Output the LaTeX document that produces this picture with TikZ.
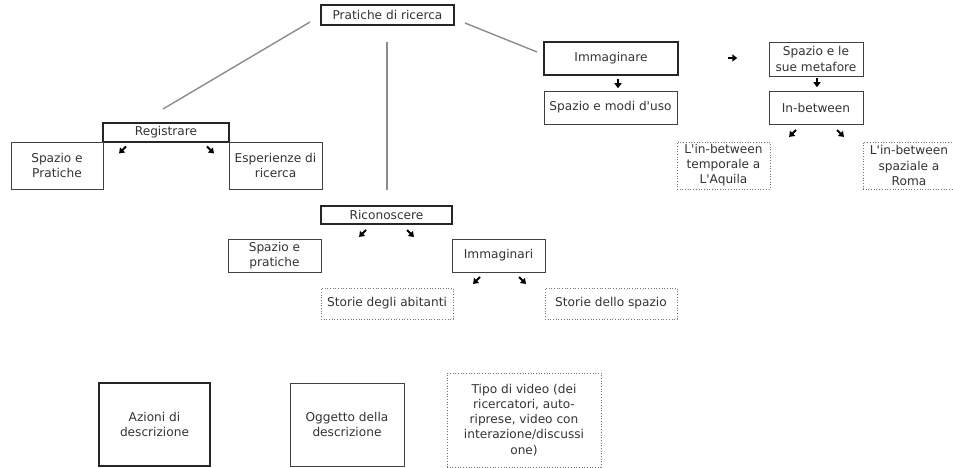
\documentclass[tikz,border=0pt]{standalone}
\usepackage{fontspec}
\setmainfont{DejaVu Sans}
\usetikzlibrary{arrows.meta}
\begin{document}
\begin{tikzpicture}[x=1bp,y=-1bp,
  every node/.style={font=\fontsize{12.2}{15.2}\selectfont, align=center, inner sep=1bp, text=black!80},
  thinbox/.style={draw=black!75, line width=0.8bp},
  thickbox/.style={draw=black!85, line width=2bp},
  dotbox/.style={draw=black!55, line width=0.7bp, dotted},
  conn/.style={draw=black!45, line width=1.4bp},
  sarrow/.style={line width=2bp, -{Triangle[length=5bp,width=7bp]}, shorten >=-2bp}]
\useasboundingbox (0,0) rectangle (953,468);
% nodes
\node[thickbox, minimum width=133bp, minimum height=20bp] (prat) at (387.5,15) {Pratiche di ricerca};
\node[thickbox, minimum width=126bp, minimum height=19bp] (reg) at (166,132.5) {Registrare};
\node[thinbox, minimum width=92bp, minimum height=47bp] (sp1) at (57,165.5) {Spazio e\\Pratiche};
\node[thinbox, minimum width=93bp, minimum height=47bp] (esp) at (275.5,165.5) {Esperienze di\\ricerca};
\node[thickbox, minimum width=134bp, minimum height=33bp] (imm) at (611,58.5) {Immaginare};
\node[thinbox, minimum width=133bp, minimum height=33bp] (spmod) at (610.5,107.5) {Spazio e modi d\textquotesingle uso};
\node[thinbox, minimum width=94bp, minimum height=34bp] (spmet) at (816,59) {Spazio e le\\sue metafore};
\node[thinbox, minimum width=94bp, minimum height=33bp] (inb) at (816,107.5) {In-between};
\node[dotbox, minimum width=93bp, minimum height=47bp] (ltemp) at (723.5,165.5) {L\textquotesingle in-between\\temporale a\\L\textquotesingle Aquila};
\node[dotbox, minimum width=92bp, minimum height=47bp] (lspaz) at (909,165.5) {L\textquotesingle in-between\\spaziale a\\Roma};
\node[thickbox, minimum width=131bp, minimum height=18bp] (ric) at (386.5,215) {Riconoscere};
\node[thinbox, minimum width=93bp, minimum height=33bp] (sp2) at (274.5,255.5) {Spazio e\\pratiche};
\node[thinbox, minimum width=93bp, minimum height=33bp] (immi) at (498.5,255.5) {Immaginari};
\node[dotbox, minimum width=132bp, minimum height=31bp] (sab) at (387,303.5) {Storie degli abitanti};
\node[dotbox, minimum width=132bp, minimum height=31bp] (ssp) at (611,303.5) {Storie dello spazio};
\node[thickbox, minimum width=111bp, minimum height=83bp] (az) at (154.5,424.5) {Azioni di\\descrizione};
\node[thinbox, minimum width=114bp, minimum height=83bp] (ogg) at (347,424.5) {Oggetto della\\descrizione};
\node[dotbox, minimum width=154bp, minimum height=94bp] (tipo) at (524,420) {Tipo di video (dei\\ricercatori, auto-\\riprese, video con\\interazione/discussi\\one)};
% gray connectors
\coordinate (c1a) at (310,22); \coordinate (c1b) at (163,109);
\coordinate (c2a) at (387,42); \coordinate (c2b) at (387,190);
\coordinate (c3a) at (465,23); \coordinate (c3b) at (537,52);
\draw[conn] (c1a) -- (c1b);
\draw[conn] (c2a) -- (c2b);
\draw[conn] (c3a) -- (c3b);
% small arrows
\foreach \n/\x/\y/\dx/\dy in {a1/123/149.5/-1/1, a2/210/149.5/1/1, a3/618/83/0/1.3, a4/732/58/1.3/0, a5/817/82/0/1.3, a6/793/133/-1/1, a7/840/133/1/1, a8/363/233/-1/1, a9/410/233/1/1, a10/477/280/-1/1, a11/522/280/1/1}{
  \coordinate (\n s) at ({\x-3*\dx},{\y-3*\dy});
  \coordinate (\n e) at ({\x+2.5*\dx},{\y+2.5*\dy});
  \draw[sarrow] (\n s) -- (\n e);
}
\end{tikzpicture}
\end{document}
